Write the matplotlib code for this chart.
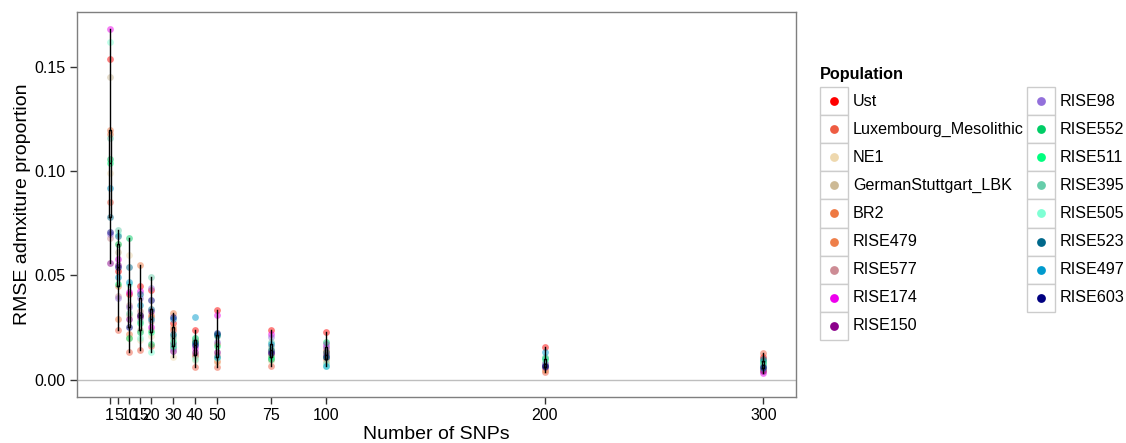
import numpy as np
import matplotlib
matplotlib.use("Agg")
import matplotlib.pyplot as plt
from matplotlib.patches import Rectangle

plt.rcParams["font.family"] = ["Liberation Sans", "DejaVu Sans"]

snps = [1, 5, 10, 15, 20, 30, 40, 50, 75, 100, 200, 300]

populations = ["Ust", "Luxembourg_Mesolithic", "NE1", "GermanStuttgart_LBK", "BR2",
               "RISE479", "RISE577", "RISE174", "RISE150", "RISE98", "RISE552",
               "RISE511", "RISE395", "RISE505", "RISE523", "RISE497", "RISE603"]

colors = ["#FF0000", "#EE5C42", "#EED8AE", "#CDBA96", "#EE7942", "#EE7F4A",
          "#CD8C95", "#EE00EE", "#8B008B", "#9370DB", "#00CD66", "#00FF7F",
          "#66CDAA", "#7FFFD4", "#00688B", "#009ACD", "#000080"]

# RMSE per population, one value per SNP count
ust = [0.154, 0.052, 0.041, 0.045, 0.043, 0.027, 0.0238, 0.0333, 0.0238, 0.023, 0.0155, 0.011]
lux = [0.085, 0.024, 0.013, 0.014, 0.016, 0.0238, 0.006, 0.006, 0.0063, 0.010, 0.0035, 0.0127]
ne1 = [0.099, 0.065, 0.060, 0.019, 0.021, 0.011, 0.0095, 0.008, 0.009, 0.009, 0.005, 0.006]
lbk = [0.145, 0.061, 0.031, 0.024, 0.024, 0.015, 0.011, 0.011, 0.010, 0.012, 0.006, 0.007]
br2 = [0.120, 0.029, 0.022, 0.055, 0.030, 0.032, 0.019, 0.009, 0.012, 0.014, 0.0045, 0.005]
rise479 = [0.118, 0.045, 0.020, 0.031, 0.031, 0.025, 0.012, 0.017, 0.014, 0.013, 0.007, 0.0045]
rise577 = [0.068, 0.040, 0.036, 0.033, 0.028, 0.020, 0.012, 0.012, 0.016, 0.0155, 0.008, 0.0065]
rise174 = [0.168, 0.058, 0.042, 0.0425, 0.025, 0.017, 0.015, 0.031, 0.022, 0.017, 0.0075, 0.0032]
rise150 = [0.056, 0.055, 0.029, 0.030, 0.033, 0.0135, 0.013, 0.013, 0.013, 0.012, 0.006, 0.004]
rise98 = [0.070, 0.039, 0.035, 0.039, 0.044, 0.015, 0.017, 0.018, 0.0206, 0.0155, 0.008, 0.0075]
rise552 = [0.106, 0.065, 0.068, 0.023, 0.017, 0.018, 0.018, 0.0217, 0.0098, 0.018, 0.0105, 0.0087]
rise511 = [0.104, 0.046, 0.020, 0.027, 0.023, 0.016, 0.020, 0.016, 0.011, 0.011, 0.010, 0.008]
rise395 = [0.116, 0.072, 0.032, 0.028, 0.049, 0.021, 0.020, 0.021, 0.018, 0.008, 0.011, 0.009]
rise505 = [0.162, 0.070, 0.046, 0.020, 0.013, 0.019, 0.010, 0.0105, 0.015, 0.0065, 0.0085, 0.007]
rise523 = [0.078, 0.069, 0.054, 0.041, 0.034, 0.022, 0.018, 0.0215, 0.014, 0.013, 0.0065, 0.010]
rise497 = [0.092, 0.049, 0.047, 0.036, 0.029, 0.029, 0.030, 0.011, 0.017, 0.0063, 0.013, 0.0056]
rise603 = [0.071, 0.054, 0.025, 0.031, 0.038, 0.030, 0.0165, 0.0225, 0.0127, 0.011, 0.0063, 0.006]

rmse = np.array([ust, lux, ne1, lbk, br2, rise479, rise577, rise174, rise150, rise98,
                 rise552, rise511, rise395, rise505, rise523, rise497, rise603])

W, H = 1126, 443
fig = plt.figure(figsize=(W / 100, H / 100), dpi=100)
ax = fig.add_axes([77 / W, 1 - 397 / H, (796 - 77) / W, (397 - 12) / H])

ax.axhline(0, color="#BEBEBE", lw=1, zorder=0)

for vals, c in zip(rmse, colors):
    ax.scatter(snps, vals, s=24, color=c, alpha=0.5, linewidths=0, zorder=2)

ax.boxplot([rmse[:, i] for i in range(len(snps))], positions=snps, widths=0.9,
           manage_ticks=False, showfliers=False, showcaps=False,
           boxprops=dict(color="black", lw=1),
           whiskerprops=dict(color="black", lw=1),
           medianprops=dict(color="black", lw=1), zorder=3)

ax.set_xlim(-13.95, 314.95)
ax.set_ylim(-0.0084, 0.1764)
ax.set_xticks(snps)
ax.set_xticklabels([str(s) for s in snps])
ax.set_yticks([0, 0.05, 0.10, 0.15])
ax.set_yticklabels(["0.00", "0.05", "0.10", "0.15"])
ax.tick_params(direction="out", length=5, width=1, color="#333333",
               labelsize=11.5, labelcolor="black", pad=3)
for sp in ax.spines.values():
    sp.set_color("#7F7F7F")
    sp.set_linewidth(1)
ax.set_xlabel("Number of SNPs", fontsize=14, labelpad=2)
ax.set_ylabel("RMSE admxiture proportion", fontsize=14, labelpad=3)

# legend drawn in pixel coordinates
lg = fig.add_axes([0, 0, 1, 1])
lg.set_xlim(0, W)
lg.set_ylim(H, 0)
lg.axis("off")
lg.text(820, 74, "Population", fontsize=11.7, fontweight="bold", va="center", ha="left")
col_x = [820, 1027]
row_h = 28.1
for i, (name, c) in enumerate(zip(populations, colors)):
    col, row = divmod(i, 9)
    x0 = col_x[col]
    y0 = 87 + row * row_h
    lg.add_patch(Rectangle((x0, y0), 28, row_h, facecolor="white", edgecolor="#CCCCCC", lw=1))
    lg.scatter([x0 + 14], [y0 + row_h / 2], s=40, color=c, linewidths=0)
    lg.text(x0 + 33, y0 + row_h / 2, name, fontsize=11.6, va="center", ha="left")

fig.savefig("out.png", dpi=100)
